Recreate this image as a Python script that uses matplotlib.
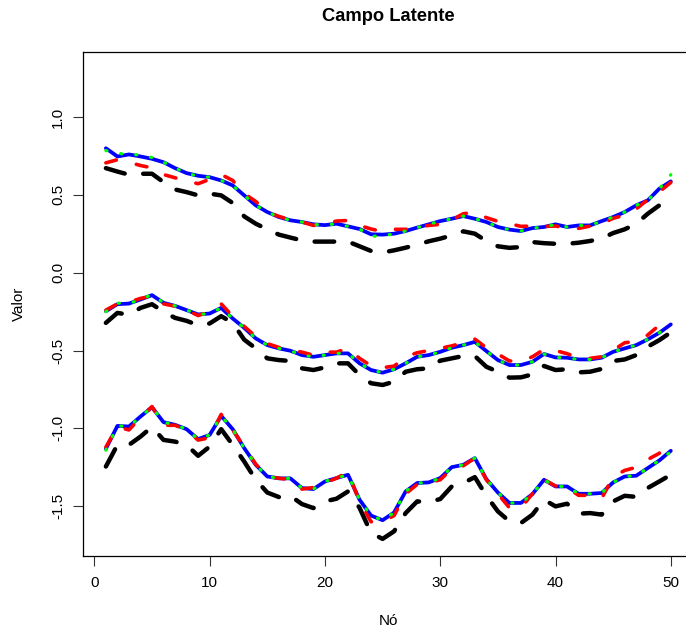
import numpy as np
import matplotlib
matplotlib.use("Agg")
import matplotlib.pyplot as plt

plt.rcParams['font.family'] = ['Liberation Sans', 'DejaVu Sans']

nodes = np.arange(1, 51)

# Top field
top_black = [0.672, 0.65, 0.63, 0.636, 0.636, 0.582, 0.535, 0.518, 0.497, 0.508,
             0.497, 0.448, 0.362, 0.315, 0.279, 0.245, 0.226, 0.208, 0.2, 0.2,
             0.2, 0.2, 0.17, 0.14, 0.13, 0.144, 0.161, 0.18, 0.202, 0.219,
             0.24, 0.266, 0.251, 0.204, 0.17, 0.16, 0.165, 0.197, 0.19, 0.186,
             0.186, 0.193, 0.204, 0.22, 0.255, 0.279, 0.315, 0.379, 0.433, 0.49]
top_red = [0.706, 0.726, 0.71, 0.689, 0.674, 0.631, 0.61, 0.59, 0.572, 0.60,
           0.631, 0.593, 0.508, 0.458, 0.39, 0.362, 0.34, 0.326, 0.304, 0.315,
           0.332, 0.336, 0.304, 0.281, 0.265, 0.279, 0.279, 0.29, 0.304, 0.311,
           0.34, 0.379, 0.39, 0.354, 0.33, 0.315, 0.298, 0.30, 0.298, 0.30,
           0.287, 0.285, 0.30, 0.315, 0.35, 0.37, 0.41, 0.47, 0.52, 0.58]
top_blue = [0.80, 0.747, 0.76, 0.747, 0.732, 0.71, 0.672, 0.64, 0.623, 0.614,
            0.593, 0.561, 0.497, 0.433, 0.39, 0.358, 0.337, 0.326, 0.311, 0.306,
            0.315, 0.298, 0.281, 0.247, 0.245, 0.251, 0.268, 0.29, 0.311, 0.332,
            0.347, 0.364, 0.347, 0.326, 0.294, 0.277, 0.268, 0.287, 0.294, 0.311,
            0.294, 0.304, 0.304, 0.332, 0.358, 0.39, 0.433, 0.465, 0.54, 0.587]
top_green = [0.785, 0.77, 0.755, 0.76, 0.74, 0.71, 0.672, 0.64, 0.62, 0.614,
             0.593, 0.561, 0.497, 0.433, 0.39, 0.358, 0.337, 0.326, 0.311, 0.306,
             0.315, 0.298, 0.281, 0.235, 0.235, 0.251, 0.268, 0.29, 0.311, 0.332,
             0.347, 0.364, 0.347, 0.326, 0.294, 0.277, 0.268, 0.287, 0.294, 0.311,
             0.294, 0.304, 0.304, 0.332, 0.358, 0.39, 0.433, 0.465, 0.54, 0.63]

# Middle field
mid_black = [-0.322, -0.258, -0.27, -0.226, -0.202, -0.251, -0.29, -0.309, -0.337, -0.326,
             -0.279, -0.322, -0.43, -0.486, -0.55, -0.561, -0.567, -0.614, -0.625, -0.608,
             -0.582, -0.582, -0.657, -0.71, -0.721, -0.70, -0.636, -0.62, -0.614, -0.565,
             -0.55, -0.535, -0.535, -0.604, -0.636, -0.674, -0.672, -0.653, -0.599, -0.625,
             -0.62, -0.64, -0.636, -0.618, -0.567, -0.557, -0.529, -0.475, -0.433, -0.383]
mid_red = [-0.24, -0.20, -0.19, -0.165, -0.15, -0.20, -0.215, -0.24, -0.275, -0.25,
           -0.20, -0.28, -0.345, -0.41, -0.455, -0.48, -0.495, -0.51, -0.53, -0.51,
           -0.51, -0.486, -0.55, -0.597, -0.61, -0.60, -0.54, -0.514, -0.50, -0.486,
           -0.47, -0.448, -0.426, -0.482, -0.522, -0.567, -0.567, -0.54, -0.492, -0.50,
           -0.52, -0.546, -0.55, -0.54, -0.497, -0.45, -0.44, -0.40, -0.337, -0.315]
mid_blue = [-0.247, -0.202, -0.198, -0.172, -0.144, -0.193, -0.213, -0.24, -0.268, -0.262,
            -0.226, -0.294, -0.354, -0.422, -0.465, -0.486, -0.501, -0.529, -0.54, -0.529,
            -0.518, -0.518, -0.582, -0.625, -0.642, -0.62, -0.582, -0.54, -0.529, -0.508,
            -0.482, -0.465, -0.444, -0.503, -0.561, -0.593, -0.593, -0.572, -0.522, -0.544,
            -0.546, -0.557, -0.557, -0.546, -0.508, -0.486, -0.465, -0.428, -0.386, -0.332]
mid_green = [-0.25, -0.195, -0.198, -0.172, -0.14, -0.193, -0.213, -0.24, -0.268, -0.262,
             -0.226, -0.294, -0.354, -0.422, -0.465, -0.486, -0.501, -0.529, -0.54, -0.529,
             -0.518, -0.518, -0.582, -0.625, -0.642, -0.62, -0.582, -0.54, -0.529, -0.508,
             -0.482, -0.465, -0.444, -0.503, -0.561, -0.593, -0.593, -0.572, -0.522, -0.544,
             -0.546, -0.557, -0.557, -0.546, -0.508, -0.486, -0.465, -0.428, -0.386, -0.325]

# Bottom field
bot_black = [-1.245, -1.106, -1.106, -1.053, -0.99, -1.074, -1.085, -1.106, -1.176, -1.117,
             -1.005, -1.106, -1.213, -1.33, -1.412, -1.441, -1.433, -1.486, -1.512, -1.469,
             -1.452, -1.405, -1.51, -1.672, -1.71, -1.661, -1.544, -1.469, -1.473, -1.454,
             -1.373, -1.351, -1.313, -1.433, -1.533, -1.597, -1.608, -1.554, -1.458, -1.501,
             -1.484, -1.548, -1.544, -1.554, -1.469, -1.433, -1.44, -1.383, -1.341, -1.298]
bot_red = [-1.12, -0.99, -1.01, -0.93, -0.86, -0.98, -0.98, -1.01, -1.075, -1.06,
           -0.91, -1.01, -1.12, -1.23, -1.31, -1.32, -1.33, -1.39, -1.38, -1.35,
           -1.32, -1.28, -1.47, -1.60, -1.60, -1.56, -1.42, -1.36, -1.35, -1.33,
           -1.26, -1.24, -1.19, -1.33, -1.42, -1.51, -1.51, -1.42, -1.33, -1.37,
           -1.38, -1.43, -1.43, -1.45, -1.31, -1.27, -1.25, -1.20, -1.16, -1.07]
bot_blue = [-1.131, -0.984, -0.988, -0.924, -0.864, -0.96, -0.977, -1.005, -1.069, -1.042,
            -0.92, -1.005, -1.127, -1.234, -1.309, -1.321, -1.321, -1.383, -1.39, -1.341,
            -1.319, -1.298, -1.458, -1.56, -1.59, -1.54, -1.405, -1.351, -1.347, -1.319,
            -1.249, -1.234, -1.191, -1.326, -1.412, -1.479, -1.479, -1.422, -1.33, -1.373,
            -1.373, -1.42, -1.42, -1.415, -1.347, -1.309, -1.304, -1.255, -1.206, -1.144]
bot_green = [-1.14, -0.984, -0.988, -0.924, -0.864, -0.96, -0.977, -1.005, -1.069, -1.042,
             -0.92, -1.005, -1.127, -1.234, -1.309, -1.321, -1.321, -1.383, -1.39, -1.341,
             -1.319, -1.298, -1.458, -1.56, -1.59, -1.54, -1.405, -1.351, -1.347, -1.319,
             -1.249, -1.234, -1.191, -1.326, -1.412, -1.479, -1.479, -1.422, -1.33, -1.373,
             -1.373, -1.42, -1.42, -1.415, -1.347, -1.309, -1.304, -1.255, -1.206, -1.15]

x_ticks = [0, 10, 20, 30, 40, 50]
y_ticks = [-1.5, -1.0, -0.5, 0.0, 0.5, 1.0]

fig = plt.figure(figsize=(6.86, 6.33), dpi=100)
ax = fig.add_axes([0.1214, 0.1216, 0.8894, 0.7967])

black_style = dict(color='black', lw=3.2, linestyle=(0, (4.4, 4.2)),
                   dash_capstyle='round', solid_capstyle='round')
red_style = dict(color='#ff0000', lw=2.6, linestyle=(0, (3.0, 5.7)),
                 dash_capstyle='round')
blue_style = dict(color='#0000ff', lw=2.7, solid_capstyle='round',
                  solid_joinstyle='round')
green_style = dict(color='#00ff00', lw=2.3, linestyle=(0, (0.35, 4.4)),
                   dash_capstyle='round')

for blk, red, blu, grn in [(top_black, top_red, top_blue, top_green),
                           (mid_black, mid_red, mid_blue, mid_green),
                           (bot_black, bot_red, bot_blue, bot_green)]:
    ax.plot(nodes, blk, **black_style)
    ax.plot(nodes, blu, **blue_style)
    ax.plot(nodes, red, **red_style)
    ax.plot(nodes, grn, **green_style)

ax.set_xlim(-0.96, 51.96)
ax.set_ylim(-1.82, 1.42)
ax.set_xticks(x_ticks)
ax.set_xticklabels([str(v) for v in x_ticks])
ax.set_yticks(y_ticks)
ax.set_yticklabels(['%.1f' % v for v in y_ticks], rotation=90, va='center')

ax.tick_params(axis='both', direction='out', length=7.2, width=0.8,
               labelsize=11, color='#333333')
ax.tick_params(axis='x', pad=7.0)
ax.tick_params(axis='y', pad=6.0)
for sp in ax.spines.values():
    sp.set_linewidth(0.9)
    sp.set_color('black')
ax.spines['right'].set_visible(False)

fig.text(388.4 / 686, 1 - 20.7 / 633, 'Campo Latente', ha='center',
         va='baseline', fontsize=13.2, fontweight='bold')
fig.text(388.4 / 686, 1 - 625 / 633, 'Nó', ha='center', va='baseline',
         fontsize=11)
fig.text(18.8 / 686, 1 - 303.9 / 633, 'Valor', ha='center', va='center',
         rotation=90, fontsize=11)

fig.savefig('out.png', dpi=100)
